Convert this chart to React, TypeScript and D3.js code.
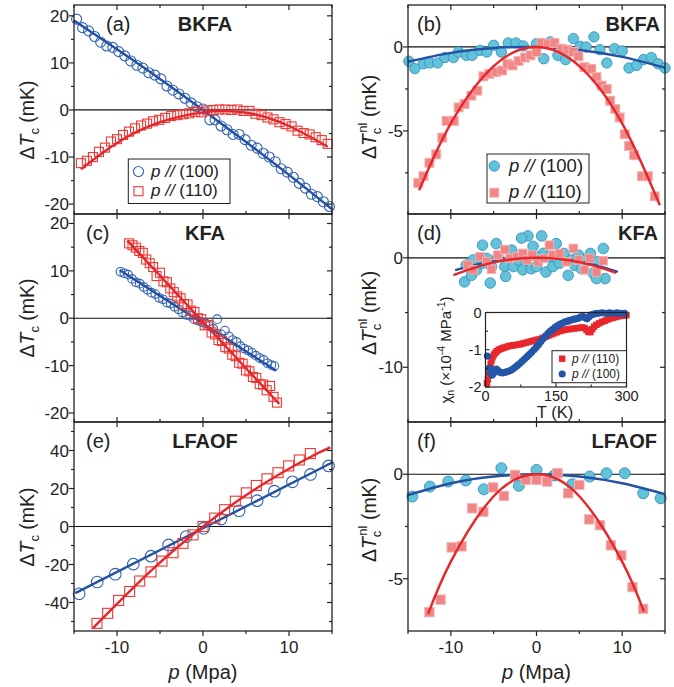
import React from 'react';
import * as d3 from 'd3';

type Pt = [number, number];

// ---------------- shared axis ticks ----------------
const pMajor = [-10, 0, 10];
const pMinor = [-15, -5, 5, 15];
const pTickLabels = ['-10', '0', '10'];

// ---------------- (a) BKFA, ΔTc ----------------
const aP100: Pt[] = [[-14.7,19.3],[-14.0,17.5],[-13.3,16.8],[-12.6,15.6],[-11.9,14.4],[-11.2,13.6],[-10.5,13.3],[-9.8,12.4],[-9.1,11.5],[-8.4,10.4],[-7.7,9.5],[-7.0,8.9],[-6.3,7.9],[-5.6,7.4],[-4.9,6.6],[-4.2,5.1],[-3.5,4.2],[-2.8,3.4],[-2.1,2.5],[-1.4,1.5],[-0.7,0.7],[0,0.2],[0.8,-2.1],[1.4,-2.1],[2.1,-3.4],[2.8,-4.2],[3.5,-5.2],[4.2,-5.2],[4.9,-6.3],[5.6,-7.5],[6.3,-8.1],[7.0,-9.2],[7.7,-10.0],[8.4,-11.0],[9.1,-12.5],[9.8,-13.2],[10.5,-14.3],[11.2,-15.6],[11.9,-16.6],[12.6,-17.9],[13.3,-18.4],[14.0,-19.5],[14.7,-20.5]];
const aP110: Pt[] = [[-14.2,-11.3],[-13.5,-10.8],[-12.8,-10.0],[-12.1,-8.9],[-11.4,-8.0],[-10.7,-6.7],[-10.0,-6.2],[-9.3,-5.3],[-8.6,-4.6],[-7.9,-3.9],[-7.2,-3.3],[-6.5,-2.9],[-5.8,-2.4],[-5.1,-2.1],[-4.4,-1.7],[-3.7,-1.3],[-3.0,-1.1],[-2.3,-0.9],[-1.6,-0.7],[-0.9,-0.4],[-0.2,-0.5],[0.5,-0.1],[1.2,0.0],[1.9,0.1],[2.6,0.1],[3.3,0.0],[4.0,0.1],[4.7,-0.2],[5.4,-0.2],[6.1,-0.8],[6.8,-1.1],[7.5,-1.6],[8.2,-2.0],[8.9,-2.6],[9.6,-3.0],[10.3,-3.5],[11.0,-4.4],[11.7,-4.9],[12.4,-5.2],[13.1,-5.8],[13.8,-6.4],[14.5,-7.2]];
const aFit100: Pt[] = [[-15,19.0],[-10,12.9],[-5,6.6],[0,0],[5,-6.8],[10,-13.8],[15,-21.1]];
const aFit110: Pt[] = [[-14.2,-12.6],[-10,-7.0],[-5,-2.6],[0,-0.5],[3,-0.25],[6,-0.9],[10,-3.4],[14.5,-7.8]];

// ---------------- (b) BKFA, ΔTc^nl ----------------
const bP100: Pt[] = [[-14.9,-0.85],[-14.2,-1.29],[-13.2,-1.0],[-12.45,-0.95],[-11.55,-0.95],[-10.7,-0.63],[-9.7,-0.63],[-9.1,-0.3],[-8.2,-0.5],[-7.5,-0.5],[-6.6,-0.2],[-5.8,-0.3],[-5.0,0.1],[-4.1,-0.3],[-3.3,0.24],[-2.4,0.24],[-1.55,0.06],[0,0.2],[0.85,-0.7],[1.6,0.3],[2.5,-0.5],[3.4,-0.75],[4.3,0.5],[5.1,0.04],[5.8,0.0],[6.7,0.6],[7.4,-0.16],[8.2,-0.95],[9.1,-0.1],[10.0,-0.24],[10.8,-1.25],[11.7,-1.1],[12.5,-0.75],[13.4,-0.63],[14.2,-1.0],[15.0,-1.25]];
const bP110: Pt[] = [[-13.8,-8.1],[-13.2,-7.7],[-12.5,-6.9],[-11.7,-6.4],[-11.0,-5.4],[-10.5,-4.4],[-9.65,-4.4],[-9.1,-3.6],[-8.4,-3.4],[-7.6,-2.9],[-6.9,-2.6],[-6.2,-1.75],[-5.5,-1.6],[-4.75,-1.5],[-4.0,-1.4],[-3.4,-1.0],[-2.8,-1.1],[-2.1,-0.83],[-1.36,-0.63],[-0.7,-0.5],[0,-0.3],[0.6,0.24],[1.36,0.16],[2.1,0.24],[2.9,-0.1],[3.6,-0.16],[4.3,-0.3],[4.9,-0.56],[5.6,-1.2],[6.4,-1.3],[7.0,-1.8],[7.6,-2.3],[8.2,-2.5],[8.6,-3.2],[9.2,-3.7],[9.7,-4.2],[10.3,-5.2],[10.8,-5.9],[11.4,-6.45],[12.3,-7.7],[13.0,-7.7],[13.8,-8.9]];
const bFit100: Pt[] = [[-15,-0.88],[-10,-0.35],[-5,-0.06],[0,0],[5,-0.18],[10,-0.59],[15,-1.23]];
const bFit110: Pt[] = [[-13.7,-8.54],[-10,-4.55],[-5,-1.14],[0,0],[5,-1.14],[10,-4.55],[14.4,-9.43]];

// ---------------- (c) KFA, ΔTc ----------------
const cP100: Pt[] = [[-9.6,9.8],[-9.15,9.5],[-8.7,9.2],[-8.25,8.3],[-7.8,7.6],[-7.35,7.3],[-6.9,6.6],[-6.45,6.0],[-6.0,5.4],[-5.55,5.1],[-5.1,4.3],[-4.65,4.0],[-4.2,3.3],[-3.75,3.1],[-3.3,2.4],[-2.85,1.9],[-2.4,1.2],[-1.95,0.7],[-1.5,0.5],[-1.05,-0.2],[-0.6,-0.5],[-0.15,-0.8],[0.3,-1.1],[0.75,-1.6],[1.2,-2.2],[1.65,-0.2],[2.1,-3.4],[2.55,-2.6],[3.0,-3.8],[3.45,-4.6],[3.9,-5.0],[4.35,-5.9],[4.8,-6.4],[5.25,-6.8],[5.7,-7.3],[6.15,-7.9],[6.6,-8.4],[7.05,-8.8],[7.5,-9.5],[7.95,-9.9],[8.3,-10.1]];
const cP110: Pt[] = [[-8.6,15.8],[-8.2,15.4],[-7.8,14.9],[-7.4,14.2],[-7.0,13.8],[-6.6,12.4],[-6.2,11.6],[-5.8,10.8],[-5.4,8.9],[-5.0,9.6],[-4.6,7.8],[-4.2,7.6],[-3.8,6.3],[-3.4,5.5],[-3.0,4.6],[-2.6,4.2],[-2.2,3.0],[-1.8,2.9],[-1.4,1.6],[-1.0,1.3],[-0.6,0.0],[-0.2,-0.2],[0.2,-1.5],[0.6,-1.4],[1.0,-3.0],[1.4,-3.4],[1.8,-4.6],[2.2,-4.8],[2.6,-6.1],[3.0,-6.4],[3.4,-7.7],[3.8,-8.0],[4.2,-9.4],[4.6,-9.6],[5.0,-11.0],[5.4,-11.2],[5.8,-12.4],[6.2,-12.6],[6.6,-13.9],[7.0,-14.0],[7.4,-15.2],[7.8,-14.3],[8.2,-16.6],[8.6,-17.8]];
const cFit100: Pt[] = [[-9.7,10.2],[0,-1.13],[8.5,-11.06]];
const cFit110: Pt[] = [[-8.8,16.4],[0,-0.79],[8.87,-18.1]];

// ---------------- (d) KFA, ΔTc^nl ----------------
const dP100: Pt[] = [[-8.2,-0.67],[-8.4,-2.2],[-7.6,-1.6],[-7.0,-1.1],[-6.3,1.15],[-6.3,-0.5],[-5.4,-2.3],[-5.25,-0.8],[-4.7,1.3],[-4.5,0.1],[-3.7,-0.8],[-3.6,-1.7],[-2.9,0.7],[-2.7,-0.8],[-2.1,-0.2],[-1.6,-1.1],[-1.2,-0.2],[-1.0,2.0],[-0.6,-1.0],[-0.4,1.05],[0,-0.8],[0.6,2.0],[0.8,0.4],[1.1,-1.3],[1.55,0.1],[1.9,-0.8],[2.3,1.3],[2.7,-0.5],[3.2,0.4],[3.7,-1.6],[4.1,-0.2],[4.5,-0.7],[4.9,0.25],[5.25,-1.0],[5.75,-0.2],[6.3,0.4],[6.6,-1.4],[7.2,-0.35],[7.8,0.85],[8.0,-1.9],[7.0,-1.9],[-5.8,-0.06],[-7.4,-0.2],[0,0.1],[-1.75,1.8]];
const dP110: Pt[] = [[-8.0,-0.67],[-7.4,-1.1],[-6.6,0.1],[-5.8,-0.36],[-5.25,-1.05],[-4.5,0.25],[-3.7,0.75],[-3.1,-0.06],[-2.3,0.1],[-1.6,0.4],[-1.1,-0.2],[-0.5,0.25],[0.2,-0.36],[0.8,-0.06],[1.5,1.15],[1.9,0.25],[2.7,0.4],[3.5,-0.36],[4.3,0.85],[4.9,-0.2],[5.6,-1.1],[6.2,-0.06],[7.0,-1.3],[7.8,-0.27]];
const dFit100: Pt[] = [[-9.5,-1.12],[-5,-0.3],[0,0],[5,-0.33],[9.5,-1.28]];
const dFit110: Pt[] = [[-9.7,-1.58],[-5,-0.42],[0,0],[5,-0.4],[9.3,-1.37]];

// ---------------- (d) inset: χn vs T ----------------
const insetTMajor = [0, 150, 300];
const insetTMinor = [75, 225];
const insetYMajor = [0, -1, -2];
const insetYMinor = [-0.5, -1.5];
const insetP110: Pt[] = [[3,-1.9],[5,-1.8],[7,-1.65],[9,-1.5],[11,-1.38],[13,-1.28],[15,-1.2],[18,-1.13],[21,-1.08],[24,-1.04],[28,-1.0],[32,-0.98],[36,-0.96],[40,-0.94],[45,-0.92],[50,-0.9],[55,-0.89],[60,-0.88],[65,-0.87],[70,-0.86],[75,-0.85],[80,-0.83],[86,-0.81],[92,-0.79],[98,-0.77],[104,-0.75],[110,-0.73],[116,-0.71],[122,-0.68],[128,-0.65],[134,-0.62],[140,-0.59],[146,-0.56],[152,-0.53],[158,-0.5],[164,-0.48],[170,-0.46],[176,-0.45],[182,-0.44],[188,-0.43],[194,-0.42],[200,-0.41],[206,-0.4],[211,-0.42],[215,-0.47],[219,-0.52],[223,-0.53],[227,-0.45],[231,-0.38],[236,-0.33],[242,-0.29],[248,-0.25],[254,-0.22],[260,-0.19],[266,-0.16],[272,-0.14],[278,-0.12],[284,-0.1],[290,-0.09],[296,-0.08],[300,-0.07]];
const insetP100: Pt[] = [[4,-1.17],[8,-1.5],[11,-1.62],[14,-1.68],[17,-1.63],[20,-1.55],[23,-1.52],[26,-1.55],[30,-1.6],[34,-1.62],[38,-1.62],[43,-1.6],[48,-1.58],[53,-1.56],[58,-1.52],[63,-1.47],[68,-1.42],[73,-1.37],[78,-1.31],[83,-1.25],[88,-1.19],[93,-1.13],[98,-1.07],[103,-1.0],[108,-0.93],[113,-0.86],[118,-0.78],[123,-0.7],[128,-0.63],[133,-0.56],[138,-0.5],[143,-0.45],[148,-0.4],[153,-0.36],[158,-0.32],[163,-0.29],[168,-0.26],[173,-0.24],[178,-0.22],[183,-0.2],[188,-0.18],[193,-0.17],[198,-0.15],[203,-0.12],[208,-0.11],[212,-0.14],[216,-0.17],[220,-0.12],[224,-0.07],[229,-0.05],[234,-0.03],[240,-0.02],[248,-0.01],[256,-0.02],[264,-0.01],[272,-0.02],[280,-0.01],[288,-0.02],[296,-0.02]];

// ---------------- (e) LFAOF, ΔTc ----------------
const eP100: Pt[] = [[-14.4,-35.4],[-12.3,-29.2],[-10.2,-25.1],[-8.1,-19.8],[-6.05,-15.6],[-4.0,-9.7],[-1.94,-5.3],[0.08,-0.9],[2.1,3.9],[4.2,8.3],[6.3,13.6],[8.3,18.6],[10.4,23.5],[12.5,27.4],[14.6,31.9]];
const eP110: Pt[] = [[-12.33,-51.0],[-11.09,-45.7],[-9.81,-38.9],[-8.53,-34.2],[-7.36,-28.7],[-6.05,-23.9],[-4.77,-18.2],[-3.49,-13.8],[-2.33,-8.85],[-1.16,-4.4],[0,0],[1.36,4.4],[2.52,8.85],[3.76,13.3],[5.04,17.7],[6.2,21.6],[7.44,25.1],[8.72,28.3],[9.96,31.9],[11.2,35.0],[12.48,38.4]];
const eFit100: Pt[] = [[-14.85,-35.1],[0,-0.9],[15.08,33.8]];
const eFit110: Pt[] = [[-12.8,-53.5],[-6,-23.1],[0,0],[6,19.5],[12,35.4],[14.8,41.6]];

// ---------------- (f) LFAOF, ΔTc^nl ----------------
const fP100: Pt[] = [[-14.5,-1.07],[-12.45,-0.59],[-10.3,-0.35],[-8.25,-0.3],[-6.15,-0.72],[-4.1,0.29],[-2.06,-0.55],[0,0.21],[2.06,-0.06],[4.16,-0.48],[6.2,-0.11],[8.17,0.05],[10.3,0.05],[12.45,-0.91],[14.5,-1.15]];
const fP110: Pt[] = [[-12.5,-6.6],[-11.2,-6.0],[-9.9,-3.5],[-8.75,-3.45],[-7.5,-1.63],[-6.2,-1.8],[-5.06,-0.63],[-3.8,-1.04],[-2.5,-0.03],[-1.25,-0.27],[0,-0.27],[1.25,-0.35],[2.45,0.05],[3.7,-0.91],[5.0,-0.51],[6.15,-2.16],[7.4,-2.44],[8.68,-3.4],[9.9,-3.88],[11.2,-5.4],[12.45,-6.44]];
const fFit100: Pt[] = [[-15,-1.0],[-10,-0.43],[-5,-0.11],[0,0],[5,-0.11],[10,-0.43],[15,-0.95]];
const fFit110: Pt[] = [[-12.65,-6.68],[-10,-4.18],[-5,-1.05],[0,0],[5,-1.05],[10,-4.18],[12.53,-6.56]];

// ---------------- styling ----------------
const FONT = '"Liberation Sans", Arial, Helvetica, sans-serif';
const AX = '#222';
const BLUE_O = '#3062b2';
const BLUE_L = '#2451a3';
const RED_O = '#ec3935';
const RED_L = '#e6262a';
const CYAN_F = '#62c3d8';
const CYAN_S = '#2f88c2';
const PINK_F = '#f08585';
const PINK_S = '#f5b3b3';
const INS_RED = '#e8262b';
const INS_BLUE = '#2456a8';

type Kind = 'oc' | 'os' | 'fc' | 'fs';

function marker(kind: Kind, cx: number, cy: number, s: number, key: string | number) {
  if (kind === 'oc') return <circle key={key} cx={cx} cy={cy} r={s} fill="none" stroke={BLUE_O} strokeWidth={1.1} />;
  if (kind === 'os') return <rect key={key} x={cx - s} y={cy - s} width={2 * s} height={2 * s} fill="none" stroke={RED_O} strokeWidth={1.1} />;
  if (kind === 'fc') return <circle key={key} cx={cx} cy={cy} r={s} fill={CYAN_F} stroke={CYAN_S} strokeWidth={0.8} />;
  return <rect key={key} x={cx - s} y={cy - s} width={2 * s} height={2 * s} fill={PINK_F} stroke={PINK_S} strokeWidth={0.9} />;
}

interface PanelCfg {
  id: string;
  left: number; right: number; top: number; bottom: number;
  yDomain: [number, number];
  yMajor: number[]; yMinor: number[]; yLabels: string[];
  row: number;
  s1: Pt[]; k1: Kind; r1: number; f1: Pt[];
  s2: Pt[]; k2: Kind; r2: number; f2: Pt[];
  tag: string; tagX: number;
  name: string; nameX: number; nameAnchor: 'middle' | 'end';
  labelX: number; labelY: number; nl: boolean;
}

const LX = [74, 332];
const RX = [408, 665];
const ROWS = [[5, 214], [214, 422], [422, 631]];

const panels: PanelCfg[] = [
  { id: 'a', left: LX[0], right: LX[1], top: ROWS[0][0], bottom: ROWS[0][1], yDomain: [-22.1, 22.3],
    yMajor: [20, 10, 0, -10, -20], yMinor: [15, 5, -5, -15], yLabels: ['20', '10', '0', '-10', '-20'], row: 0,
    s1: aP100, k1: 'oc', r1: 5, f1: aFit100, s2: aP110, k2: 'os', r2: 4.5, f2: aFit110,
    tag: '(a)', tagX: 106, name: 'BKFA', nameX: 205, nameAnchor: 'middle', labelX: 34, labelY: 120, nl: false },
  { id: 'b', left: RX[0], right: RX[1], top: ROWS[0][0], bottom: ROWS[0][1], yDomain: [-9.95, 2.5],
    yMajor: [0, -5], yMinor: [-2.5, -7.5], yLabels: ['0', '-5'], row: 0,
    s1: bP100, k1: 'fc', r1: 5.2, f1: bFit100, s2: bP110, k2: 'fs', r2: 4.5, f2: bFit110,
    tag: '(b)', tagX: 417, name: 'BKFA', nameX: 660, nameAnchor: 'end', labelX: 376, labelY: 117, nl: true },
  { id: 'c', left: LX[0], right: LX[1], top: ROWS[1][0], bottom: ROWS[1][1], yDomain: [-21.9, 22.0],
    yMajor: [20, 10, 0, -10, -20], yMinor: [15, 5, -5, -15], yLabels: ['20', '10', '0', '-10', '-20'], row: 1,
    s1: cP100, k1: 'oc', r1: 4.3, f1: cFit100, s2: cP110, k2: 'os', r2: 4.5, f2: cFit110,
    tag: '(c)', tagX: 86, name: 'KFA', nameX: 205, nameAnchor: 'middle', labelX: 34, labelY: 318, nl: false },
  { id: 'd', left: RX[0], right: RX[1], top: ROWS[1][0], bottom: ROWS[1][1], yDomain: [-15, 4],
    yMajor: [0, -10], yMinor: [-5], yLabels: ['0', '-10'], row: 1,
    s1: dP100, k1: 'fc', r1: 5.3, f1: dFit100, s2: dP110, k2: 'fs', r2: 4.3, f2: dFit110,
    tag: '(d)', tagX: 417, name: 'KFA', nameX: 658, nameAnchor: 'end', labelX: 376, labelY: 313, nl: true },
  { id: 'e', left: LX[0], right: LX[1], top: ROWS[2][0], bottom: ROWS[2][1], yDomain: [-55, 55],
    yMajor: [40, 20, 0, -20, -40], yMinor: [50, 30, 10, -10, -30, -50], yLabels: ['40', '20', '0', '-20', '-40'], row: 2,
    s1: eP100, k1: 'oc', r1: 5.8, f1: eFit100, s2: eP110, k2: 'os', r2: 5, f2: eFit110,
    tag: '(e)', tagX: 86, name: 'LFAOF', nameX: 205, nameAnchor: 'middle', labelX: 34, labelY: 527, nl: false },
  { id: 'f', left: RX[0], right: RX[1], top: ROWS[2][0], bottom: ROWS[2][1], yDomain: [-7.5, 2.5],
    yMajor: [0, -5], yMinor: [-2.5], yLabels: ['0', '-5'], row: 2,
    s1: fP100, k1: 'fc', r1: 5.5, f1: fFit100, s2: fP110, k2: 'fs', r2: 4.7, f2: fFit110,
    tag: '(f)', tagX: 417, name: 'LFAOF', nameX: 657, nameAnchor: 'end', labelX: 376, labelY: 520, nl: true },
];

function Panel({ c }: { c: PanelCfg }) {
  const x = d3.scaleLinear().domain([-15, 15]).range([c.left, c.right]);
  const y = d3.scaleLinear().domain(c.yDomain).range([c.bottom, c.top]);
  const line = d3.line<Pt>().x(d => x(d[0])).y(d => y(d[1])).curve(d3.curveNatural);
  const last = c.row === 2;
  const ticks: JSX.Element[] = [];
  c.yMajor.forEach((v, i) => {
    ticks.push(<line key={'ylM' + i} x1={c.left - 5} x2={c.left} y1={y(v)} y2={y(v)} />);
    ticks.push(<line key={'yrM' + i} x1={c.right - 5} x2={c.right} y1={y(v)} y2={y(v)} />);
  });
  c.yMinor.forEach((v, i) => {
    ticks.push(<line key={'ylm' + i} x1={c.left - 3} x2={c.left} y1={y(v)} y2={y(v)} />);
    ticks.push(<line key={'yrm' + i} x1={c.right - 3} x2={c.right} y1={y(v)} y2={y(v)} />);
  });
  pMajor.forEach((v, i) => {
    ticks.push(<line key={'xtM' + i} x1={x(v)} x2={x(v)} y1={c.top} y2={c.top + 5} />);
    ticks.push(<line key={'xbM' + i} x1={x(v)} x2={x(v)} y1={c.bottom} y2={last ? c.bottom + 5 : c.bottom - 5} />);
  });
  pMinor.forEach((v, i) => {
    if (c.row === 0) ticks.push(<line key={'xtm' + i} x1={x(v)} x2={x(v)} y1={c.top} y2={c.top + 3} />);
    ticks.push(<line key={'xbm' + i} x1={x(v)} x2={x(v)} y1={c.bottom} y2={last ? c.bottom + 3 : c.bottom - 3} />);
  });
  const base = c.top + 25.5;
  return (
    <g>
      <line x1={c.left} x2={c.right} y1={y(0)} y2={y(0)} stroke="#111" strokeWidth={1.2} />
      <g>{c.s1.map((d, i) => marker(c.k1, x(d[0]), y(d[1]), c.r1, i))}</g>
      <path d={line(c.f1) || ''} fill="none" stroke={BLUE_L} strokeWidth={2.4} />
      <g>{c.s2.map((d, i) => marker(c.k2, x(d[0]), y(d[1]), c.r2, i))}</g>
      <path d={line(c.f2) || ''} fill="none" stroke={RED_L} strokeWidth={2.4} />
      <rect x={c.left} y={c.top} width={c.right - c.left} height={c.bottom - c.top} fill="none" stroke={AX} strokeWidth={1.3} />
      <g stroke={AX} strokeWidth={1.2}>{ticks}</g>
      <g fontSize={17} textAnchor="end" fill="#222">
        {c.yMajor.map((v, i) => (
          <text key={i} x={c.left - 5} y={y(v) + 6}>{c.yLabels[i]}</text>
        ))}
      </g>
      {last && (
        <g fontSize={17} textAnchor="middle" fill="#222">
          {pMajor.map((v, i) => (
            <text key={i} x={x(v)} y={652.5}>{pTickLabels[i]}</text>
          ))}
        </g>
      )}
      <text x={c.tagX} y={base} fontSize={20} fill="#222">{c.tag}</text>
      <text x={c.nameX} y={base} fontSize={20} fontWeight="bold" textAnchor={c.nameAnchor} fill="#222">{c.name}</text>
      <text transform={`translate(${c.labelX},${c.labelY}) rotate(-90)`} textAnchor="middle" fontSize={19.5} fill="#222">
        {'\u0394'}<tspan fontStyle="italic">T</tspan>
        <tspan fontSize={13} dy={5}>c</tspan>
        {c.nl ? <tspan fontSize={13} dx={-5} dy={-14}>nl</tspan> : null}
        <tspan dy={c.nl ? 9 : -5}>{' (mK)'}</tspan>
      </text>
      {last && (
        <text x={(c.left + c.right) / 2} y={679} textAnchor="middle" fontSize={20} fill="#222">
          <tspan fontStyle="italic">p</tspan>{' (Mpa)'}
        </text>
      )}
    </g>
  );
}

function Legend({ x0, y0, w, h, k1, k2, r1, r2, mx, tx, rows, fs }: { x0: number; y0: number; w: number; h: number; k1: Kind; k2: Kind; r1: number; r2: number; mx: number; tx: number; rows: number[]; fs: number }) {
  return (
    <g>
      <rect x={x0} y={y0} width={w} height={h} fill="#fff" stroke={AX} strokeWidth={1} />
      {marker(k1, mx, rows[0], r1, 'l1')}
      {marker(k2, mx, rows[1], r2, 'l2')}
      <text x={tx} y={rows[0] + fs * 0.3} fontSize={fs} fill="#222"><tspan fontStyle="italic">p //</tspan>{' (100)'}</text>
      <text x={tx} y={rows[1] + fs * 0.3} fontSize={fs} fill="#222"><tspan fontStyle="italic">p //</tspan>{' (110)'}</text>
    </g>
  );
}

function Inset() {
  const L = 485.5, R = 626.5, T = 312.5, B = 387;
  const x = d3.scaleLinear().domain([0, 300]).range([L, R]);
  const y = d3.scaleLinear().domain([-2, 0]).range([B, T]);
  return (
    <g>
      <rect x={L} y={T} width={R - L} height={B - T} fill="#fff" />
      {insetP110.map((d, i) => (
        <rect key={'r' + i} x={x(d[0]) - 3.2} y={y(d[1]) - 3.2} width={6.4} height={6.4} fill={INS_RED} />
      ))}
      {insetP100.map((d, i) => (
        <circle key={'b' + i} cx={x(d[0])} cy={y(d[1])} r={3.6} fill={INS_BLUE} />
      ))}
      <rect x={L} y={T} width={R - L} height={B - T} fill="none" stroke={AX} strokeWidth={1.2} />
      <g stroke={AX} strokeWidth={1.1}>
        {insetTMajor.map((v, i) => <line key={'tM' + i} x1={x(v)} x2={x(v)} y1={B} y2={B - 4} />)}
        {insetTMinor.map((v, i) => <line key={'tm' + i} x1={x(v)} x2={x(v)} y1={B} y2={B - 2.5} />)}
        {insetYMajor.map((v, i) => <line key={'yM' + i} x1={L} x2={L + 4} y1={y(v)} y2={y(v)} />)}
        {insetYMinor.map((v, i) => <line key={'ym' + i} x1={L} x2={L + 2.5} y1={y(v)} y2={y(v)} />)}
      </g>
      <g fontSize={14.5} fill="#222">
        {insetYMajor.map((v, i) => (
          <text key={'yl' + i} x={L - 4} y={y(v) + 5} textAnchor="end">{String(v)}</text>
        ))}
        {insetTMajor.map((v, i) => (
          <text key={'xl' + i} x={x(v)} y={400.5} textAnchor="middle">{String(v)}</text>
        ))}
      </g>
      <text x={555} y={418} textAnchor="middle" fontSize={16.5} fill="#222">T (K)</text>
      <text transform={`translate(451,350) rotate(-90)`} textAnchor="middle" fontSize={15} fill="#222">
        {'\u03C7'}<tspan fontSize={10.5} dy={3}>n</tspan>
        <tspan dy={-3}>{' (\u00D710'}</tspan>
        <tspan fontSize={10.5} dy={-6}>-4</tspan>
        <tspan dy={6}>{' MPa'}</tspan>
        <tspan fontSize={10.5} dy={-6}>-1</tspan>
        <tspan dy={6}>)</tspan>
      </text>
      <rect x={552} y={350.7} width={R - 552} height={382.7 - 350.7} fill="#fff" stroke={AX} strokeWidth={1} />
      <rect x={559} y={355.5} width={6.4} height={6.4} fill={INS_RED} />
      <circle cx={562.2} cy={374} r={3.6} fill={INS_BLUE} />
      <text x={572} y={363} fontSize={12} fill="#222"><tspan fontStyle="italic">p //</tspan>{' (110)'}</text>
      <text x={572} y={378} fontSize={12} fill="#222"><tspan fontStyle="italic">p //</tspan>{' (100)'}</text>
    </g>
  );
}

export default function App() {
  return (
    <svg width={674} height={687} viewBox="0 0 674 687" style={{ position: 'absolute', left: 0, top: 0, background: '#fff' }} fontFamily={FONT}>
      <rect x={0} y={0} width={674} height={687} fill="#fff" />
      {panels.map(p => <Panel key={p.id} c={p} />)}
      <Legend x0={128.3} y0={159} w={101.7} h={44.5} k1="oc" k2="os" r1={5} r2={4.5} mx={138.5} tx={151} rows={[171.5, 191.2]} fs={17} />
      <Legend x0={487} y0={154} w={102} h={49} k1="fc" k2="fs" r1={5.2} r2={4.5} mx={494.3} tx={509} rows={[166, 192.7]} fs={18.5} />
      <Inset />
    </svg>
  );
}
